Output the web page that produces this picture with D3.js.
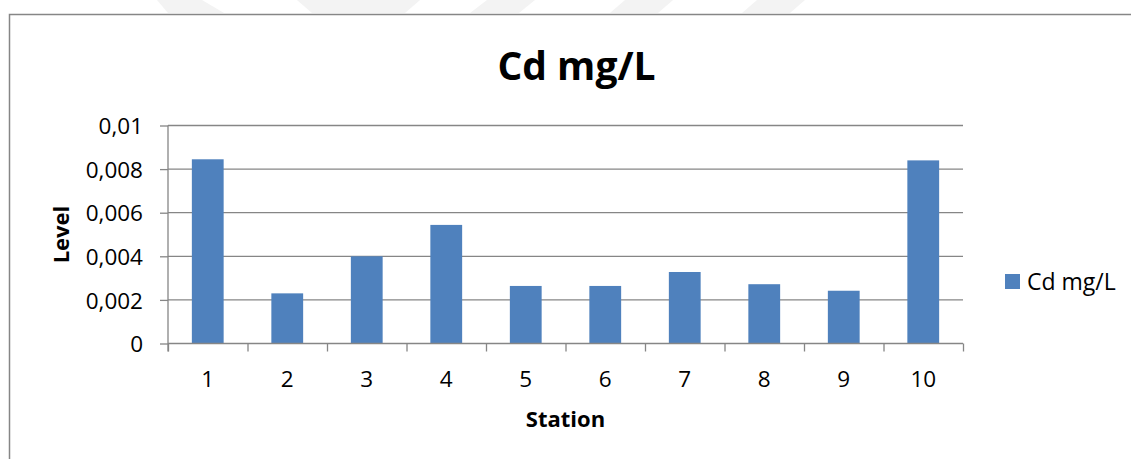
<!DOCTYPE html>
<html>
<head>
<meta charset="utf-8">
<script src="https://cdn.jsdelivr.net/npm/d3@7"></script>
<style>
  html, body { margin: 0; padding: 0; background: #ffffff; }
  svg { display: block; }
  text { font-family: "Open Sans", "Noto Sans", sans-serif; fill: #000; }
</style>
</head>
<body>
<svg id="chart" width="1131" height="459"></svg>
<script>
// Cadmium level per sampling station
const stations = ["1", "2", "3", "4", "5", "6", "7", "8", "9", "10"];
const cdLevel = [0.00845, 0.0023, 0.0040, 0.00544, 0.00264, 0.00264, 0.00328, 0.00272, 0.00242, 0.0084];
const yTicks = [0, 0.002, 0.004, 0.006, 0.008, 0.01];
const seriesName = "Cd mg/L";
const chartTitle = "Cd mg/L";
const xTitle = "Station";
const yTitle = "Level";

const svg = d3.select("#chart");
const grey = "#868686";
const barColor = "#4f81bd";

const plot = { left: 168, right: 963, top: 125.5, bottom: 343.5 };

// comma as decimal separator
const locale = d3.formatLocale({ decimal: ",", thousands: ".", grouping: [3], currency: ["", ""] });
const fmt = locale.format("~g");

const x = d3.scaleBand()
  .domain(stations)
  .range([plot.left, plot.right])
  .paddingInner(0.6)
  .paddingOuter(0.3);

// category boundaries for the tick marks
const xEdges = d3.scaleLinear().domain([0, stations.length]).range([plot.left, plot.right]);

const y = d3.scaleLinear().domain([0, 0.01]).range([plot.bottom, plot.top]);

// faint decorative shapes along the top edge
const deco = [
  [[157, 0], [202, 0], [224, 13], [168, 13]],
  [[297, 0], [420, 0], [405, 13], [312, 13]],
  [[487, 0], [535, 0], [519, 13], [470, 13]],
  [[625, 0], [673, 0], [658, 13], [610, 13]],
  [[757, 0], [805, 0], [790, 13], [742, 13]]
];
svg.append("g").selectAll("polygon").data(deco).join("polygon")
  .attr("points", d => d.map(p => p.join(",")).join(" "))
  .attr("fill", "#f3f3f3");

// chart frame
svg.append("rect")
  .attr("x", 9.5).attr("y", 14.5)
  .attr("width", 1200).attr("height", 500)
  .attr("fill", "#ffffff")
  .attr("stroke", grey).attr("stroke-width", 1.5);

// horizontal gridlines
svg.append("g").selectAll("line").data(yTicks.filter(v => v > 0)).join("line")
  .attr("x1", plot.left).attr("x2", plot.right)
  .attr("y1", d => y(d)).attr("y2", d => y(d))
  .attr("stroke", grey).attr("stroke-width", 1.3);

// bars
svg.append("g").selectAll("rect").data(cdLevel).join("rect")
  .attr("x", (d, i) => x(stations[i]))
  .attr("width", x.bandwidth())
  .attr("y", d => y(d))
  .attr("height", d => y(0) - y(d))
  .attr("fill", barColor);

// y axis
const yAxis = svg.append("g")
  .attr("transform", `translate(${plot.left},0)`)
  .call(d3.axisLeft(y).tickValues(yTicks).tickFormat(fmt).tickSize(8).tickPadding(17));
yAxis.select(".domain").attr("stroke", grey).attr("stroke-width", 1.3)
  .attr("d", `M0,${plot.top}V${plot.bottom + 8}`);
yAxis.selectAll(".tick line").attr("stroke", grey).attr("stroke-width", 1.3);
yAxis.selectAll(".tick text")
  .attr("font-size", 22.5).attr("dy", "0.36em")
  .style("font-family", "'Open Sans', sans-serif").attr("fill", "#000");

// x axis: boundary tick marks
const xTickAxis = svg.append("g")
  .attr("transform", `translate(0,${plot.bottom})`)
  .call(d3.axisBottom(xEdges).tickValues(d3.range(stations.length + 1)).tickFormat("").tickSize(8));
xTickAxis.select(".domain").attr("stroke", grey).attr("stroke-width", 1.3)
  .attr("d", `M${plot.left},0H${plot.right}`);
xTickAxis.selectAll(".tick line").attr("stroke", grey).attr("stroke-width", 1.3);

// x axis: category labels
const xLabelAxis = svg.append("g")
  .attr("transform", `translate(0,${plot.bottom})`)
  .call(d3.axisBottom(x).tickSize(0).tickPadding(0));
xLabelAxis.select(".domain").remove();
xLabelAxis.selectAll(".tick text")
  .attr("y", 43.2).attr("dy", 0)
  .attr("font-size", 22.5)
  .style("font-family", "'Open Sans', sans-serif").attr("fill", "#000");

// chart title
svg.append("text")
  .attr("x", 576.5).attr("y", 80)
  .attr("text-anchor", "middle")
  .attr("font-size", 39).attr("font-weight", "bold")
  .text(chartTitle);

// axis titles
svg.append("text")
  .attr("x", (plot.left + plot.right) / 2).attr("y", 426.5)
  .attr("text-anchor", "middle")
  .attr("font-size", 22).attr("font-weight", "bold")
  .text(xTitle);

svg.append("text")
  .attr("transform", `translate(69,${(plot.top + plot.bottom) / 2}) rotate(-90)`)
  .attr("text-anchor", "middle")
  .attr("font-size", 22).attr("font-weight", "bold")
  .text(yTitle);

// legend
const legend = svg.append("g").attr("transform", "translate(1005,274)");
legend.append("rect").attr("width", 15).attr("height", 15).attr("fill", barColor);
legend.append("text").attr("x", 22).attr("y", 16)
  .attr("font-size", 23)
  .text(seriesName);
</script>
</body>
</html>
